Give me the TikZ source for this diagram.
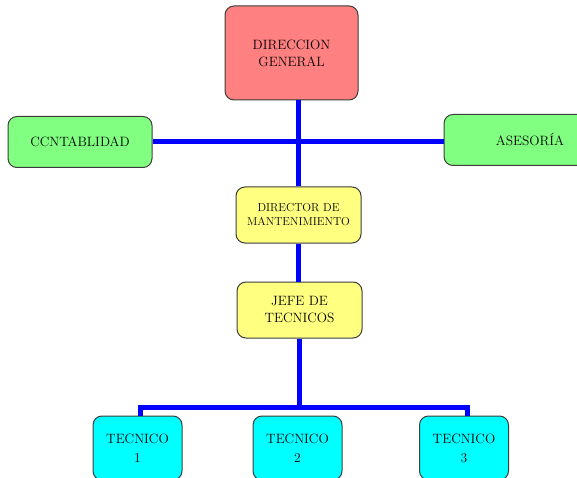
\documentclass[tikz,border=0pt]{standalone}
\usepackage{tikz}
\usepackage{xcolor}
\usetikzlibrary{positioning}
\definecolor{orgred}{RGB}{255, 128, 128}
\definecolor{orggreen}{RGB}{128, 255, 128}
\definecolor{orgyellow}{RGB}{255, 255, 128}
\definecolor{orgcyan}{RGB}{0, 255, 255}
\definecolor{orgblue}{RGB}{0, 0, 255}
\definecolor{orgedge}{RGB}{60, 60, 60}
\tikzset{
    orgnode/.style={draw=orgedge, line width=1pt, rounded corners=9pt, align=center,
        inner sep=2pt, font=\fontsize{13.5}{17}\selectfont},
    rednode/.style={orgnode, fill=orgred, minimum width=133pt, minimum height=94pt},
    greennode/.style={orgnode, fill=orggreen, minimum height=51pt},
    yellownode/.style={orgnode, fill=orgyellow, minimum width=125pt, minimum height=56pt},
    cyannode/.style={orgnode, fill=orgcyan, minimum width=89pt, minimum height=64pt},
    orgline/.style={draw=orgblue, line width=5pt}
}
\begin{document}
\begin{tikzpicture}[x=1pt, y=-1pt]
    \useasboundingbox (0,0) rectangle (577,478);
    \clip (0,0) rectangle (577,478);
    % top and staff boxes
    \node[rednode] (dg) at (291.5,53) {DIRECCION\\GENERAL};
    \node[greennode, minimum width=144pt] (cont) at (80,142) {CCNTABLIDAD};
    \node[greennode, minimum width=172pt] (ases) at (530,140) {ASESOR\'IA};
    % line of command
    \node[yellownode, font=\fontsize{11.5}{14}\selectfont] (dir) at (298.5,215)
        {DIRECTOR DE\\MANTENIMIENTO};
    \node[yellownode] (jefe) at (299.5,310) {JEFE DE\\TECNICOS};
    \node[cyannode] (t1) at (137.5,448) {TECNICO\\[2pt]1};
    \node[cyannode] (t2) at (297.5,448) {TECNICO\\[2pt]2};
    \node[cyannode] (t3) at (464,448) {TECNICO\\[2pt]3};
    \coordinate (bus) at (jefe.south |- 0,407);
    % connectors
    \draw[orgline] (cont.east) -- (cont.east -| ases.west);
    \draw[orgline] (dir.north) -- (dir.north |- dg.south);
    \draw[orgline] (dir.south) -- (dir.south |- jefe.north);
    \draw[orgline] (jefe.south) -- (bus);
    \draw[orgline] ([xshift=3pt]t1.north) |- (bus) -| ([xshift=3pt]t3.north);
\end{tikzpicture}
\end{document}
